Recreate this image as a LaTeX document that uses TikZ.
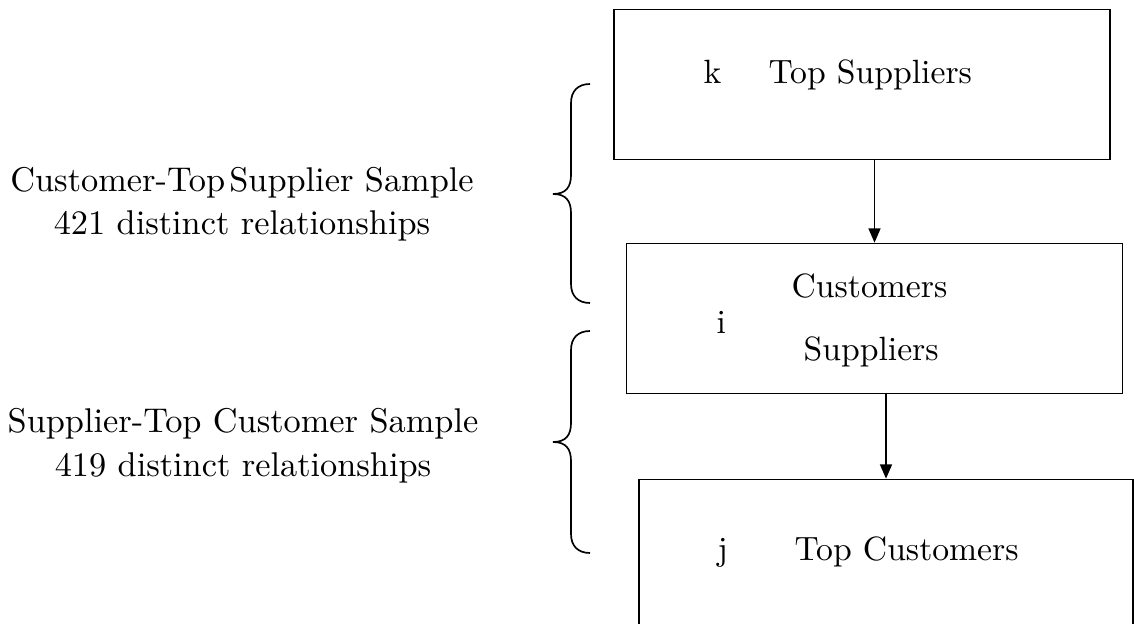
\documentclass[tikz,border=0pt]{standalone}
\usetikzlibrary{arrows.meta}
\begin{document}
\begin{tikzpicture}[x=0.3pt,y=-0.3pt,
  box/.style={draw, line width=0.5pt, inner sep=0pt, minimum width=148.8pt, minimum height=45pt},
  lbl/.style={inner sep=0pt, anchor=base west, font=\fontsize{10.1pt}{12pt}\selectfont},
  side/.style={inner sep=0pt, anchor=base, align=center, font=\fontsize{10.3pt}{12.9pt}\selectfont},
  arr/.style={line width=0.5pt, -{Triangle[length=4.3pt,width=3.6pt]}},
  brace/.style={line width=0.5pt}]
\useasboundingbox (0,0) rectangle (1134,624);
% boxes
\node[box] (top) at (862,84.5) {};
\node[box] (mid) at (874.5,318.5) {};
\node[box, minimum width=148.2pt] (bot) at (886,554.5) {};
% box texts
\node[lbl] (k) at (703,84) {k};
\node[lbl] (ts) at (768,84) {Top Suppliers};
\node[lbl] (cu) at (791,298) {Customers};
\node[lbl] (su) at (803,361) {Suppliers};
\node[lbl] (i) at (716,334) {i};
\node[lbl] (j) at (717,560) {j};
\node[lbl] (tc) at (794,560) {Top Customers};
% arrows
\draw[arr] (top.south -| mid.center) -- (mid.north);
\draw[arr] (mid.south -| bot.center) -- (bot.north);
% side texts (base anchor = baseline of the last line)
\node[side] (s1) at (242,235) {Customer-Top\hspace{0.12em}Supplier Sample\\421 distinct relationships};
\node[side] (s2) at (243,476) {Supplier-Top Customer Sample\\419 distinct relationships};
% braces
\draw[brace] (590,84) .. controls (578,84) and (571,91) .. (571,103) -- (571,175)
  .. controls (571,187) and (566,194) .. (553,194)
  .. controls (566,194) and (571,201) .. (571,213) -- (571,284)
  .. controls (571,296) and (578,303) .. (590,303);
\draw[brace] (590,331) .. controls (578,331) and (571,338) .. (571,350) -- (571,423)
  .. controls (571,435) and (566,442) .. (553,442)
  .. controls (566,442) and (571,449) .. (571,461) -- (571,534)
  .. controls (571,546) and (578,553) .. (590,553);
\end{tikzpicture}
\end{document}
